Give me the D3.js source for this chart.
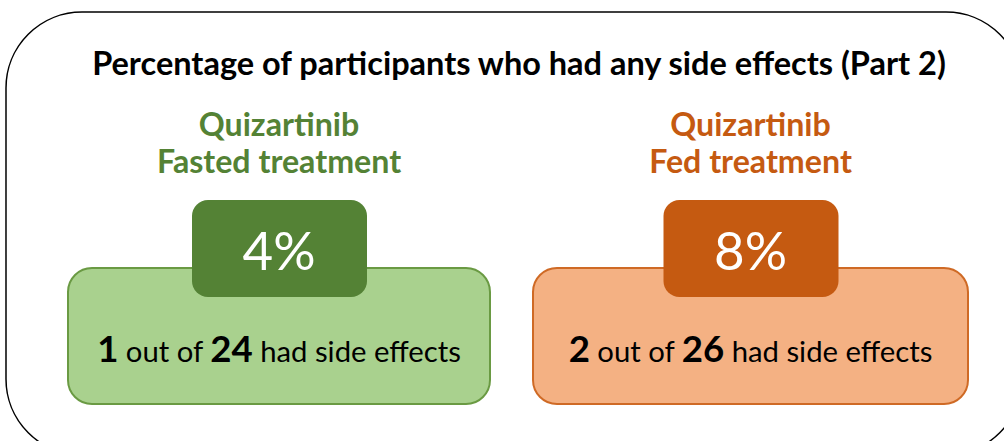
<!DOCTYPE html>
<html>
<head>
<meta charset="utf-8">
<script src="https://cdn.jsdelivr.net/npm/d3@7"></script>
<style>
  html, body { margin: 0; padding: 0; background: #fff; }
  svg { display: block; font-family: Lato, "Noto Sans", sans-serif; }
</style>
</head>
<body>
<svg id="chart" width="1004" height="441"></svg>
<script>
// chart data
const title = "Percentage of participants who had any side effects (Part 2)";
const drugs = ["Quizartinib", "Quizartinib"];
const treatments = ["Fasted treatment", "Fed treatment"];
const hadEffects = [1, 2];
const totals = [24, 26];
const percents = [4, 8];

const darkColors = ["#548235", "#c55a11"];
const lightColors = ["#a9d18e", "#f4b183"];
const strokeColors = ["#6a9a43", "#cf6a25"];
const boxWidths = [422, 435];

const groups = treatments.map((t, i) => ({
  key: t,
  drug: drugs[i],
  treatment: t,
  had: hadEffects[i],
  total: totals[i],
  pct: percents[i],
  dark: darkColors[i],
  light: lightColors[i],
  stroke: strokeColors[i],
  boxW: boxWidths[i]
}));

const svg = d3.select("#chart");

// x position of each group
const x = d3.scalePoint()
  .domain(groups.map((d) => d.key))
  .range([279, 750.5]);

// scale a text (and its tspans) so it spans a given width
function fitWidth(sel, target) {
  const w = sel.node().getBBox().width;
  const k = target / w;
  sel.attr("font-size", +sel.attr("font-size") * k);
  sel.selectAll("tspan").each(function () {
    const t = d3.select(this);
    if (t.attr("font-size")) t.attr("font-size", +t.attr("font-size") * k);
  });
  return k;
}

// outer frame
svg.append("rect")
  .attr("x", 6)
  .attr("y", 12)
  .attr("width", 1016)
  .attr("height", 443)
  .attr("rx", 76)
  .attr("fill", "#fff")
  .attr("stroke", "#000")
  .attr("stroke-width", 1.5);

const titleText = svg.append("text")
  .attr("x", 519)
  .attr("y", 75)
  .attr("text-anchor", "middle")
  .attr("font-weight", "bold")
  .attr("font-size", 28)
  .attr("fill", "#000")
  .text(title);
fitWidth(titleText, 854);

const g = svg.selectAll(".group")
  .data(groups)
  .enter()
  .append("g")
  .attr("class", "group")
  .attr("transform", (d) => `translate(${x(d.key)},0)`);

// labels
const drugLabel = g.append("text")
  .attr("y", 136)
  .attr("text-anchor", "middle")
  .attr("font-weight", "bold")
  .attr("font-size", 28)
  .attr("fill", (d) => d.dark)
  .text((d) => d.drug);

const treatLabel = g.append("text")
  .attr("y", 173)
  .attr("text-anchor", "middle")
  .attr("font-weight", "bold")
  .attr("font-size", 28)
  .attr("fill", (d) => d.dark)
  .text((d) => d.treatment);

const k1 = fitWidth(d3.select(treatLabel.nodes()[0]), 245);
d3.select(treatLabel.nodes()[1]).attr("font-size", 28 * k1);
drugLabel.attr("font-size", 28 * k1);

// big light box
g.append("rect")
  .attr("x", (d) => -d.boxW / 2)
  .attr("y", 268)
  .attr("width", (d) => d.boxW)
  .attr("height", 136)
  .attr("rx", 24)
  .attr("fill", (d) => d.light)
  .attr("stroke", (d) => d.stroke)
  .attr("stroke-width", 2);

// dark percentage box
g.append("rect")
  .attr("x", -87)
  .attr("y", 200)
  .attr("width", 175)
  .attr("height", 97)
  .attr("rx", 16)
  .attr("fill", (d) => d.dark);

const pctText = g.append("text")
  .attr("y", 270)
  .attr("text-anchor", "middle")
  .attr("font-size", 50)
  .attr("fill", "#fff")
  .text((d) => `${d.pct}%`);
const k2 = fitWidth(d3.select(pctText.nodes()[0]), 73);
pctText.attr("font-size", 50 * k2);

// "n out of N had side effects"
const countText = g.append("text")
  .attr("y", 362)
  .attr("text-anchor", "middle")
  .attr("font-size", 28)
  .attr("fill", "#000");
countText.append("tspan")
  .attr("font-weight", "bold")
  .attr("font-size", 35)
  .text((d) => d.had);
countText.append("tspan").text(" out of ");
countText.append("tspan")
  .attr("font-weight", "bold")
  .attr("font-size", 35)
  .text((d) => d.total);
countText.append("tspan").text(" had side effects");
countText.each(function () {
  fitWidth(d3.select(this), 364);
});
</script>
</body>
</html>
